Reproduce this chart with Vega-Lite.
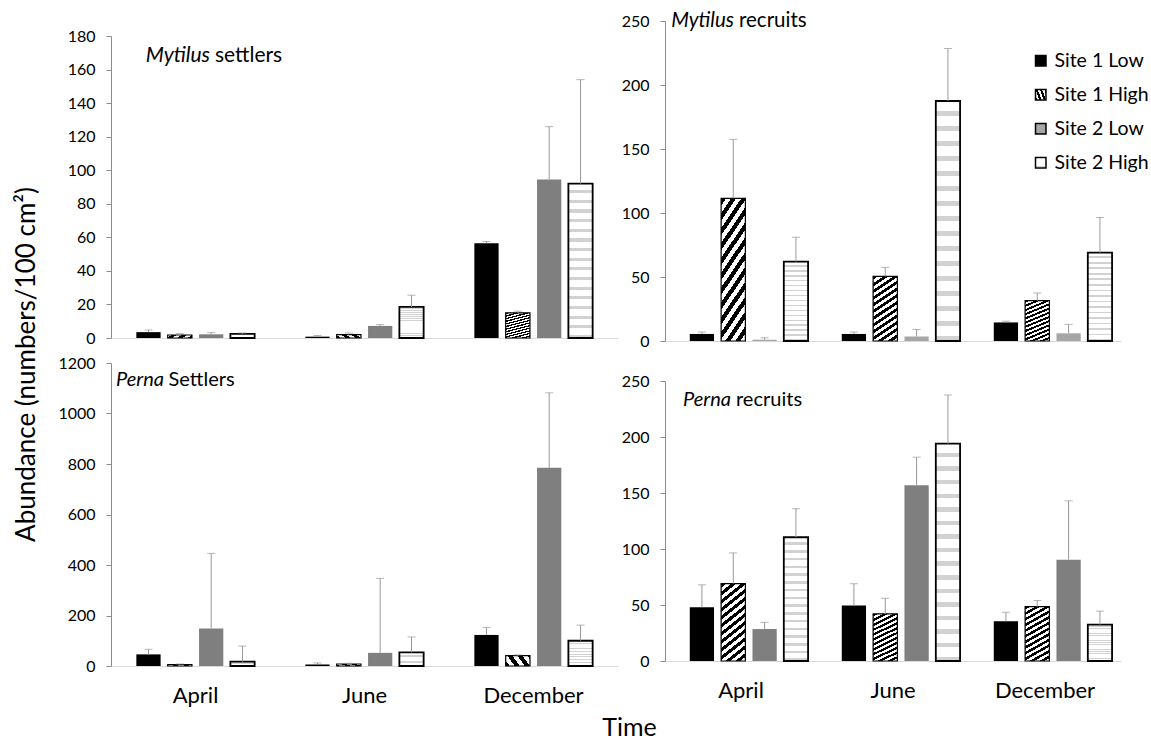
{
  "$schema": "https://vega.github.io/schema/vega-lite/v6.json",
  "padding": {"left": 13, "top": 11, "right": 0, "bottom": 0},
  "config": {
    "font": "Lato",
    "view": {"stroke": null},
    "axis": {"grid": false, "labelColor": "#000", "titleColor": "#000"},
    "axisY": {"domainColor": "#8c8c8c", "tickColor": "#8c8c8c", "tickSize": 5, "labelFontSize": 16, "labelPadding": 11, "labelOverlap": false, "format": "d"},
    "axisX": {"domainColor": "#d9d9d9", "ticks": false, "labelFontSize": 22, "labelPadding": 19, "labelAngle": 0},
    "title": {"color": "#000", "fontWeight": "normal"}
  },
  "params": [
    {"name": "hatch", "expr": "{gradient:'linear',x1:0,y1:0,x2:0.294,y2:1.176,stops:[{offset:0,color:'#000'},{offset:0.0417,color:'#000'},{offset:0.0417,color:'#fff'},{offset:0.0833,color:'#fff'},{offset:0.0833,color:'#000'},{offset:0.125,color:'#000'},{offset:0.125,color:'#fff'},{offset:0.1667,color:'#fff'},{offset:0.1667,color:'#000'},{offset:0.2083,color:'#000'},{offset:0.2083,color:'#fff'},{offset:0.25,color:'#fff'},{offset:0.25,color:'#000'},{offset:0.2917,color:'#000'},{offset:0.2917,color:'#fff'},{offset:0.3333,color:'#fff'},{offset:0.3333,color:'#000'},{offset:0.375,color:'#000'},{offset:0.375,color:'#fff'},{offset:0.4167,color:'#fff'},{offset:0.4167,color:'#000'},{offset:0.4583,color:'#000'},{offset:0.4583,color:'#fff'},{offset:0.5,color:'#fff'},{offset:0.5,color:'#000'},{offset:0.5417,color:'#000'},{offset:0.5417,color:'#fff'},{offset:0.5833,color:'#fff'},{offset:0.5833,color:'#000'},{offset:0.625,color:'#000'},{offset:0.625,color:'#fff'},{offset:0.6667,color:'#fff'},{offset:0.6667,color:'#000'},{offset:0.7083,color:'#000'},{offset:0.7083,color:'#fff'},{offset:0.75,color:'#fff'},{offset:0.75,color:'#000'},{offset:0.7917,color:'#000'},{offset:0.7917,color:'#fff'},{offset:0.8333,color:'#fff'},{offset:0.8333,color:'#000'},{offset:0.875,color:'#000'},{offset:0.875,color:'#fff'},{offset:0.9167,color:'#fff'},{offset:0.9167,color:'#000'},{offset:0.9583,color:'#000'},{offset:0.9583,color:'#fff'},{offset:1,color:'#fff'}]}"},
    {"name": "dots", "expr": "{gradient:'linear',x1:0,y1:0,x2:0,y2:1,stops:[{offset:0,color:'#fff'},{offset:0.042,color:'#fff'},{offset:0.042,color:'#d2d2d2'},{offset:0.0625,color:'#d2d2d2'},{offset:0.0625,color:'#fff'},{offset:0.1045,color:'#fff'},{offset:0.1045,color:'#d2d2d2'},{offset:0.125,color:'#d2d2d2'},{offset:0.125,color:'#fff'},{offset:0.167,color:'#fff'},{offset:0.167,color:'#d2d2d2'},{offset:0.1875,color:'#d2d2d2'},{offset:0.1875,color:'#fff'},{offset:0.2295,color:'#fff'},{offset:0.2295,color:'#d2d2d2'},{offset:0.25,color:'#d2d2d2'},{offset:0.25,color:'#fff'},{offset:0.292,color:'#fff'},{offset:0.292,color:'#d2d2d2'},{offset:0.3125,color:'#d2d2d2'},{offset:0.3125,color:'#fff'},{offset:0.3545,color:'#fff'},{offset:0.3545,color:'#d2d2d2'},{offset:0.375,color:'#d2d2d2'},{offset:0.375,color:'#fff'},{offset:0.417,color:'#fff'},{offset:0.417,color:'#d2d2d2'},{offset:0.4375,color:'#d2d2d2'},{offset:0.4375,color:'#fff'},{offset:0.4795,color:'#fff'},{offset:0.4795,color:'#d2d2d2'},{offset:0.5,color:'#d2d2d2'},{offset:0.5,color:'#fff'},{offset:0.542,color:'#fff'},{offset:0.542,color:'#d2d2d2'},{offset:0.5625,color:'#d2d2d2'},{offset:0.5625,color:'#fff'},{offset:0.6045,color:'#fff'},{offset:0.6045,color:'#d2d2d2'},{offset:0.625,color:'#d2d2d2'},{offset:0.625,color:'#fff'},{offset:0.667,color:'#fff'},{offset:0.667,color:'#d2d2d2'},{offset:0.6875,color:'#d2d2d2'},{offset:0.6875,color:'#fff'},{offset:0.7295,color:'#fff'},{offset:0.7295,color:'#d2d2d2'},{offset:0.75,color:'#d2d2d2'},{offset:0.75,color:'#fff'},{offset:0.792,color:'#fff'},{offset:0.792,color:'#d2d2d2'},{offset:0.8125,color:'#d2d2d2'},{offset:0.8125,color:'#fff'},{offset:0.8545,color:'#fff'},{offset:0.8545,color:'#d2d2d2'},{offset:0.875,color:'#d2d2d2'},{offset:0.875,color:'#fff'},{offset:0.917,color:'#fff'},{offset:0.917,color:'#d2d2d2'},{offset:0.9375,color:'#d2d2d2'},{offset:0.9375,color:'#fff'},{offset:0.9795,color:'#fff'},{offset:0.9795,color:'#d2d2d2'},{offset:1,color:'#d2d2d2'}]}"}
  ],
  "datasets": {
    "d": [
      {"panel": "TL", "month": "April", "site": "Site 1 Low", "mean": 3.5, "upper": 4.8},
      {"panel": "TL", "month": "April", "site": "Site 1 High", "mean": 1.8, "upper": 2.6},
      {"panel": "TL", "month": "April", "site": "Site 2 Low", "mean": 2.2, "upper": 3.2},
      {"panel": "TL", "month": "April", "site": "Site 2 High", "mean": 2.5, "upper": 3.0},
      {"panel": "TL", "month": "June", "site": "Site 1 Low", "mean": 0.8, "upper": 1.5},
      {"panel": "TL", "month": "June", "site": "Site 1 High", "mean": 2.0, "upper": 3.0},
      {"panel": "TL", "month": "June", "site": "Site 2 Low", "mean": 7.2, "upper": 8.0},
      {"panel": "TL", "month": "June", "site": "Site 2 High", "mean": 18.5, "upper": 25.5},
      {"panel": "TL", "month": "December", "site": "Site 1 Low", "mean": 56.5, "upper": 57.5},
      {"panel": "TL", "month": "December", "site": "Site 1 High", "mean": 15, "upper": 16},
      {"panel": "TL", "month": "December", "site": "Site 2 Low", "mean": 94.5, "upper": 126},
      {"panel": "TL", "month": "December", "site": "Site 2 High", "mean": 92, "upper": 154},
      {"panel": "TR", "month": "April", "site": "Site 1 Low", "mean": 5.5, "upper": 7},
      {"panel": "TR", "month": "April", "site": "Site 1 High", "mean": 111.5, "upper": 157.5},
      {"panel": "TR", "month": "April", "site": "Site 2 Low", "mean": 1, "upper": 2.5},
      {"panel": "TR", "month": "April", "site": "Site 2 High", "mean": 62, "upper": 81},
      {"panel": "TR", "month": "June", "site": "Site 1 Low", "mean": 5.5, "upper": 7},
      {"panel": "TR", "month": "June", "site": "Site 1 High", "mean": 50.5, "upper": 57.5},
      {"panel": "TR", "month": "June", "site": "Site 2 Low", "mean": 3.5, "upper": 9},
      {"panel": "TR", "month": "June", "site": "Site 2 High", "mean": 187.5, "upper": 228.5},
      {"panel": "TR", "month": "December", "site": "Site 1 Low", "mean": 14.5, "upper": 15.5},
      {"panel": "TR", "month": "December", "site": "Site 1 High", "mean": 31.5, "upper": 37.5},
      {"panel": "TR", "month": "December", "site": "Site 2 Low", "mean": 6, "upper": 13},
      {"panel": "TR", "month": "December", "site": "Site 2 High", "mean": 69, "upper": 96.5},
      {"panel": "BL", "month": "April", "site": "Site 1 Low", "mean": 46, "upper": 66},
      {"panel": "BL", "month": "April", "site": "Site 1 High", "mean": 6, "upper": 8},
      {"panel": "BL", "month": "April", "site": "Site 2 Low", "mean": 149, "upper": 446},
      {"panel": "BL", "month": "April", "site": "Site 2 High", "mean": 17, "upper": 79},
      {"panel": "BL", "month": "June", "site": "Site 1 Low", "mean": 6, "upper": 12},
      {"panel": "BL", "month": "June", "site": "Site 1 High", "mean": 8, "upper": 11},
      {"panel": "BL", "month": "June", "site": "Site 2 Low", "mean": 52, "upper": 347},
      {"panel": "BL", "month": "June", "site": "Site 2 High", "mean": 54, "upper": 115},
      {"panel": "BL", "month": "December", "site": "Site 1 Low", "mean": 123, "upper": 152},
      {"panel": "BL", "month": "December", "site": "Site 1 High", "mean": 41, "upper": 44},
      {"panel": "BL", "month": "December", "site": "Site 2 Low", "mean": 785, "upper": 1082},
      {"panel": "BL", "month": "December", "site": "Site 2 High", "mean": 100, "upper": 162},
      {"panel": "BR", "month": "April", "site": "Site 1 Low", "mean": 48, "upper": 68},
      {"panel": "BR", "month": "April", "site": "Site 1 High", "mean": 69, "upper": 96.5},
      {"panel": "BR", "month": "April", "site": "Site 2 Low", "mean": 28.5, "upper": 34.5},
      {"panel": "BR", "month": "April", "site": "Site 2 High", "mean": 110.5, "upper": 136},
      {"panel": "BR", "month": "June", "site": "Site 1 Low", "mean": 49.5, "upper": 69},
      {"panel": "BR", "month": "June", "site": "Site 1 High", "mean": 42, "upper": 56},
      {"panel": "BR", "month": "June", "site": "Site 2 Low", "mean": 157, "upper": 182},
      {"panel": "BR", "month": "June", "site": "Site 2 High", "mean": 194, "upper": 237.5},
      {"panel": "BR", "month": "December", "site": "Site 1 Low", "mean": 35.5, "upper": 43.5},
      {"panel": "BR", "month": "December", "site": "Site 1 High", "mean": 48.5, "upper": 54},
      {"panel": "BR", "month": "December", "site": "Site 2 Low", "mean": 90.5, "upper": 143},
      {"panel": "BR", "month": "December", "site": "Site 2 High", "mean": 32.5, "upper": 44.5}
    ]
  },
  "title": {"text": "Time", "orient": "bottom", "anchor": "middle", "fontSize": 25, "offset": 10, "dx": 48},
  "spacing": 3,
  "resolve": {"scale": {"color": "independent"}, "legend": {"color": "independent"}},
  "hconcat": [
    {
      "title": {"text": "Abundance (numbers/100 cm²)", "orient": "left", "anchor": "middle", "fontSize": 26, "offset": 18, "dx": -1},
      "spacing": 9,
      "resolve": {"scale": {"color": "independent"}, "legend": {"color": "independent"}},
      "vconcat": [
        {
          "width": 507, "height": 317,
          "layer": [
            {
              "data": {"name": "d"}, "transform": [{"filter": "datum.panel === 'TL'"}],
              "mark": {"type": "bar", "stroke": "#000"},
              "encoding": {
                "x": {"field": "month", "type": "nominal", "sort": ["April", "June", "December"], "scale": {"domain": ["April", "June", "December"], "paddingInner": 0.3, "paddingOuter": 0.15}, "axis": {"labels": false, "title": null}},
                "xOffset": {"field": "site", "type": "nominal", "scale": {"domain": ["Site 1 Low", "Site 1 High", "Site 2 Low", "Site 2 High"], "paddingInner": 0.226, "paddingOuter": 0}},
                "y": {"field": "mean", "type": "quantitative", "scale": {"domain": [0, 180], "nice": false, "range": [317, 15]}, "axis": {"values": [0, 20, 40, 60, 80, 100, 120, 140, 160, 180], "labelOverlap": false, "tickCount": 10, "title": null}},
                "color": {"field": "site", "type": "nominal", "scale": {"domain": ["Site 1 Low", "Site 1 High", "Site 2 Low", "Site 2 High"], "range": ["#000000", {"expr": "hatch"}, "#7f7f7f", {"expr": "dots"}]}, "legend": null},
                "strokeWidth": {"condition": [{"test": "datum.site === 'Site 1 High'", "value": 1.2}, {"test": "datum.site === 'Site 2 High'", "value": 1.8}], "value": 0}
              }
            },
            {
              "data": {"name": "d"}, "transform": [{"filter": "datum.panel === 'TL'"}],
              "mark": {"type": "rule", "color": "#999999", "strokeWidth": 1},
              "encoding": {
                "x": {"field": "month", "type": "nominal", "title": null},
                "xOffset": {"field": "site", "type": "nominal"},
                "y": {"field": "mean", "type": "quantitative", "title": null},
                "y2": {"field": "upper"}
              }
            },
            {
              "data": {"name": "d"}, "transform": [{"filter": "datum.panel === 'TL'"}],
              "mark": {"type": "tick", "color": "#999999", "thickness": 1, "size": 8},
              "encoding": {
                "x": {"field": "month", "type": "nominal", "title": null},
                "xOffset": {"field": "site", "type": "nominal"},
                "y": {"field": "upper", "type": "quantitative", "title": null}
              }
            },
            {
              "data": {"values": [{"genus": "Mytilus", "stage": "settlers"}]},
              "mark": {"type": "text", "fontStyle": "italic", "fontSize": 21, "align": "right", "baseline": "middle", "dx": 14.5, "dy": 20, "color": "#000"},
              "encoding": {"x": {"datum": "April", "type": "nominal"}, "y": {"datum": 180, "type": "quantitative"}, "text": {"field": "genus"}}
            },
            {
              "data": {"values": [{"genus": "Mytilus", "stage": "settlers"}]},
              "mark": {"type": "text", "fontSize": 21, "align": "left", "baseline": "middle", "dx": 19.5, "dy": 20, "color": "#000"},
              "encoding": {"x": {"datum": "April", "type": "nominal"}, "y": {"datum": 180, "type": "quantitative"}, "text": {"field": "stage"}}
            }
          ]
        },
        {
          "width": 507, "height": 303,
          "layer": [
            {
              "data": {"name": "d"}, "transform": [{"filter": "datum.panel === 'BL'"}],
              "mark": {"type": "bar", "stroke": "#000"},
              "encoding": {
                "x": {"field": "month", "type": "nominal", "sort": ["April", "June", "December"], "scale": {"domain": ["April", "June", "December"], "paddingInner": 0.3, "paddingOuter": 0.15}, "axis": {"title": null}},
                "xOffset": {"field": "site", "type": "nominal", "scale": {"domain": ["Site 1 Low", "Site 1 High", "Site 2 Low", "Site 2 High"], "paddingInner": 0.226, "paddingOuter": 0}},
                "y": {"field": "mean", "type": "quantitative", "scale": {"domain": [0, 1200], "nice": false}, "axis": {"values": [0, 200, 400, 600, 800, 1000, 1200], "title": null}},
                "color": {"field": "site", "type": "nominal", "scale": {"domain": ["Site 1 Low", "Site 1 High", "Site 2 Low", "Site 2 High"], "range": ["#000000", {"expr": "hatch"}, "#7f7f7f", {"expr": "dots"}]}, "legend": null},
                "strokeWidth": {"condition": [{"test": "datum.site === 'Site 1 High'", "value": 1.2}, {"test": "datum.site === 'Site 2 High'", "value": 1.8}], "value": 0}
              }
            },
            {
              "data": {"name": "d"}, "transform": [{"filter": "datum.panel === 'BL'"}],
              "mark": {"type": "rule", "color": "#999999", "strokeWidth": 1},
              "encoding": {
                "x": {"field": "month", "type": "nominal", "title": null},
                "xOffset": {"field": "site", "type": "nominal"},
                "y": {"field": "mean", "type": "quantitative", "title": null},
                "y2": {"field": "upper"}
              }
            },
            {
              "data": {"name": "d"}, "transform": [{"filter": "datum.panel === 'BL'"}],
              "mark": {"type": "tick", "color": "#999999", "thickness": 1, "size": 8},
              "encoding": {
                "x": {"field": "month", "type": "nominal", "title": null},
                "xOffset": {"field": "site", "type": "nominal"},
                "y": {"field": "upper", "type": "quantitative", "title": null}
              }
            },
            {
              "data": {"values": [{"genus": "Perna", "stage": "Settlers"}]},
              "mark": {"type": "text", "fontStyle": "italic", "fontSize": 20, "align": "right", "baseline": "middle", "dx": -31.5, "dy": 17, "color": "#000"},
              "encoding": {"x": {"datum": "April", "type": "nominal"}, "y": {"datum": 1200, "type": "quantitative"}, "text": {"field": "genus"}}
            },
            {
              "data": {"values": [{"genus": "Perna", "stage": "Settlers"}]},
              "mark": {"type": "text", "fontSize": 20, "align": "left", "baseline": "middle", "dx": -27, "dy": 17, "color": "#000"},
              "encoding": {"x": {"datum": "April", "type": "nominal"}, "y": {"datum": 1200, "type": "quantitative"}, "text": {"field": "stage"}}
            }
          ]
        }
      ]
    },
    {
      "spacing": 24,
      "resolve": {"scale": {"color": "independent"}, "legend": {"color": "independent"}},
      "vconcat": [
        {
          "width": 456, "height": 320,
          "layer": [
            {
              "data": {"name": "d"}, "transform": [{"filter": "datum.panel === 'TR'"}],
              "mark": {"type": "bar", "stroke": "#000"},
              "encoding": {
                "x": {"field": "month", "type": "nominal", "sort": ["April", "June", "December"], "scale": {"domain": ["April", "June", "December"], "paddingInner": 0.326, "paddingOuter": 0.163}, "axis": {"labels": false, "title": null}},
                "xOffset": {"field": "site", "type": "nominal", "scale": {"domain": ["Site 1 Low", "Site 1 High", "Site 2 Low", "Site 2 High"], "paddingInner": 0.2, "paddingOuter": 0}},
                "y": {"field": "mean", "type": "quantitative", "scale": {"domain": [0, 250], "nice": false}, "axis": {"values": [0, 50, 100, 150, 200, 250], "title": null}},
                "color": {"field": "site", "type": "nominal", "scale": {"domain": ["Site 1 Low", "Site 1 High", "Site 2 Low", "Site 2 High"], "range": ["#000000", {"expr": "hatch"}, "#a6a6a6", {"expr": "dots"}]},
                  "legend": {"orient": "none", "legendX": 366, "legendY": 30, "title": null, "labelFontSize": 19.5, "labelColor": "#000", "symbolType": "square", "symbolSize": 110, "rowPadding": 13, "labelOffset": 4, "padding": 0,
                    "encode": {"symbols": {"update": {"stroke": {"value": "#000"}, "strokeWidth": {"signal": "indexof(datum.label, 'High') >= 0 ? 1 : 0"}}}}}},
                "strokeWidth": {"condition": [{"test": "datum.site === 'Site 1 High'", "value": 1.2}, {"test": "datum.site === 'Site 2 High'", "value": 1.8}], "value": 0}
              }
            },
            {
              "data": {"name": "d"}, "transform": [{"filter": "datum.panel === 'TR'"}],
              "mark": {"type": "rule", "color": "#999999", "strokeWidth": 1},
              "encoding": {
                "x": {"field": "month", "type": "nominal", "title": null},
                "xOffset": {"field": "site", "type": "nominal"},
                "y": {"field": "mean", "type": "quantitative", "title": null},
                "y2": {"field": "upper"}
              }
            },
            {
              "data": {"name": "d"}, "transform": [{"filter": "datum.panel === 'TR'"}],
              "mark": {"type": "tick", "color": "#999999", "thickness": 1, "size": 8},
              "encoding": {
                "x": {"field": "month", "type": "nominal", "title": null},
                "xOffset": {"field": "site", "type": "nominal"},
                "y": {"field": "upper", "type": "quantitative", "title": null}
              }
            },
            {
              "data": {"values": [{"genus": "Mytilus", "stage": "recruits"}]},
              "mark": {"type": "text", "fontStyle": "italic", "fontSize": 20.5, "align": "right", "baseline": "middle", "dx": -7, "dy": 0, "color": "#000"},
              "encoding": {"x": {"datum": "April", "type": "nominal"}, "y": {"datum": 250, "type": "quantitative"}, "text": {"field": "genus"}}
            },
            {
              "data": {"values": [{"genus": "Mytilus", "stage": "recruits"}]},
              "mark": {"type": "text", "fontSize": 20.5, "align": "left", "baseline": "middle", "dx": -2, "dy": 0, "color": "#000"},
              "encoding": {"x": {"datum": "April", "type": "nominal"}, "y": {"datum": 250, "type": "quantitative"}, "text": {"field": "stage"}}
            }
          ]
        },
        {
          "width": 456, "height": 280,
          "layer": [
            {
              "data": {"name": "d"}, "transform": [{"filter": "datum.panel === 'BR'"}],
              "mark": {"type": "bar", "stroke": "#000"},
              "encoding": {
                "x": {"field": "month", "type": "nominal", "sort": ["April", "June", "December"], "scale": {"domain": ["April", "June", "December"], "paddingInner": 0.326, "paddingOuter": 0.163}, "axis": {"title": null}},
                "xOffset": {"field": "site", "type": "nominal", "scale": {"domain": ["Site 1 Low", "Site 1 High", "Site 2 Low", "Site 2 High"], "paddingInner": 0.2, "paddingOuter": 0}},
                "y": {"field": "mean", "type": "quantitative", "scale": {"domain": [0, 250], "nice": false}, "axis": {"values": [0, 50, 100, 150, 200, 250], "title": null}},
                "color": {"field": "site", "type": "nominal", "scale": {"domain": ["Site 1 Low", "Site 1 High", "Site 2 Low", "Site 2 High"], "range": ["#000000", {"expr": "hatch"}, "#7f7f7f", {"expr": "dots"}]}, "legend": null},
                "strokeWidth": {"condition": [{"test": "datum.site === 'Site 1 High'", "value": 1.2}, {"test": "datum.site === 'Site 2 High'", "value": 1.8}], "value": 0}
              }
            },
            {
              "data": {"name": "d"}, "transform": [{"filter": "datum.panel === 'BR'"}],
              "mark": {"type": "rule", "color": "#999999", "strokeWidth": 1},
              "encoding": {
                "x": {"field": "month", "type": "nominal", "title": null},
                "xOffset": {"field": "site", "type": "nominal"},
                "y": {"field": "mean", "type": "quantitative", "title": null},
                "y2": {"field": "upper"}
              }
            },
            {
              "data": {"name": "d"}, "transform": [{"filter": "datum.panel === 'BR'"}],
              "mark": {"type": "tick", "color": "#999999", "thickness": 1, "size": 8},
              "encoding": {
                "x": {"field": "month", "type": "nominal", "title": null},
                "xOffset": {"field": "site", "type": "nominal"},
                "y": {"field": "upper", "type": "quantitative", "title": null}
              }
            },
            {
              "data": {"values": [{"genus": "Perna", "stage": "recruits"}]},
              "mark": {"type": "text", "fontStyle": "italic", "fontSize": 20, "align": "right", "baseline": "middle", "dx": -10, "dy": 19, "color": "#000"},
              "encoding": {"x": {"datum": "April", "type": "nominal"}, "y": {"datum": 250, "type": "quantitative"}, "text": {"field": "genus"}}
            },
            {
              "data": {"values": [{"genus": "Perna", "stage": "recruits"}]},
              "mark": {"type": "text", "fontSize": 20, "align": "left", "baseline": "middle", "dx": -5, "dy": 19, "color": "#000"},
              "encoding": {"x": {"datum": "April", "type": "nominal"}, "y": {"datum": 250, "type": "quantitative"}, "text": {"field": "stage"}}
            }
          ]
        }
      ]
    }
  ]
}
